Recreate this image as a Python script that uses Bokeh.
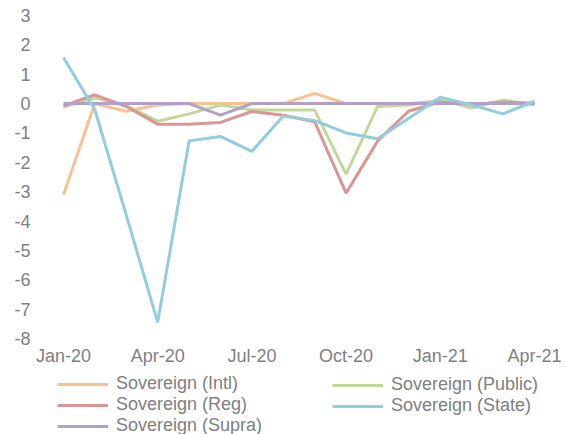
from bokeh.plotting import figure
from bokeh.models import Range1d, FixedTicker, Legend, LegendItem, LinearAxis
from bokeh.embed import file_html
from bokeh.resources import INLINE

months = ["Jan-20", "Feb-20", "Mar-20", "Apr-20", "May-20", "Jun-20", "Jul-20", "Aug-20",
          "Sep-20", "Oct-20", "Nov-20", "Dec-20", "Jan-21", "Feb-21", "Mar-21", "Apr-21"]
tick_months = ["Jan-20", "Apr-20", "Jul-20", "Oct-20", "Jan-21", "Apr-21"]
y_ticks = [-8, -7, -6, -5, -4, -3, -2, -1, 0, 1, 2, 3]

intl = [-3.1, 0.0, -0.26, -0.05, 0.0, 0.0, 0.0, 0.0, 0.35, 0.0, 0.0, 0.0, 0.08, -0.05, 0.05, 0.0]
public = [-0.12, 0.2, -0.07, -0.6, -0.35, -0.05, -0.22, -0.22, -0.22, -2.4, -0.1, -0.05, 0.12, -0.15, 0.12, -0.05]
reg = [-0.08, 0.3, -0.1, -0.7, -0.7, -0.64, -0.27, -0.4, -0.62, -3.05, -1.28, -0.25, 0.05, -0.02, 0.05, 0.0]
state = [1.57, -0.22, -3.8, -7.45, -1.27, -1.12, -1.63, -0.42, -0.58, -1.0, -1.2, -0.5, 0.22, -0.05, -0.35, 0.08]
supra = [0.0, 0.0, 0.0, 0.0, 0.0, -0.39, 0.0, 0.0, 0.0, 0.0, 0.0, 0.0, 0.0, 0.0, 0.0, 0.0]

names = ["Sovereign (Intl)", "Sovereign (Public)", "Sovereign (Reg)", "Sovereign (State)", "Sovereign (Supra)"]
colors = ["#FAC090", "#C4D79B", "#DA9694", "#92CDDC", "#B1A0C7"]
all_series = [intl, public, reg, state, supra]

x = list(range(len(months)))
FONT = "Liberation Sans"
GREY = "#808080"

# canvas layout (pixels): plot area spans x 63..534, y 15..338 within a 565x434 canvas
W, H = 565, 434
PX_L, PX_R, PY_T, PY_B = 63, 534, 15, 338
n = len(months) - 1
ymin, ymax = min(y_ticks), max(y_ticks)
sx = (PX_R - PX_L) / n
sy = (PY_B - PY_T) / (ymax - ymin)
x_range = Range1d(-PX_L / sx, n + (W - PX_R) / sx)
y_range = Range1d(ymin - (H - PY_B) / sy, ymax + PY_T / sy)

p = figure(width=W, height=H, output_backend="svg", toolbar_location=None,
           x_range=x_range, y_range=y_range, x_axis_location=None, y_axis_location=None,
           min_border=0)
p.outline_line_color = None
p.grid.visible = False
p.background_fill_color = "white"

renderers = {}
for i in [0, 1, 2, 4, 3]:
    renderers[i] = p.line(x, all_series[i], line_color=colors[i], line_width=3)

xaxis = LinearAxis(fixed_location=ymin)
yaxis = LinearAxis(fixed_location=0)
for ax in (xaxis, yaxis):
    ax.axis_line_color = None
    ax.major_tick_line_color = None
    ax.minor_tick_line_color = None
    ax.major_tick_out = 0
    ax.major_tick_in = 0
    ax.major_label_text_font = FONT
    ax.major_label_text_font_size = "18px"
    ax.major_label_text_color = GREY

xaxis.ticker = FixedTicker(ticks=[months.index(m) for m in tick_months])
xaxis.major_label_overrides = {months.index(m): m for m in tick_months}
xaxis.major_label_standoff = 7
yaxis.ticker = FixedTicker(ticks=y_ticks)
yaxis.major_label_overrides = {v: str(v) for v in y_ticks}
yaxis.major_label_standoff = 33
p.add_layout(xaxis, "below")
p.add_layout(yaxis, "left")

ROW_H = 20

def make_legend(idxs, loc):
    lg = Legend(items=[LegendItem(label=names[i], renderers=[renderers[i]]) for i in idxs],
                location=loc, orientation="vertical")
    lg.label_text_font = FONT
    lg.label_text_font_size = "18px"
    lg.label_text_color = GREY
    lg.glyph_width = 51
    lg.glyph_height = ROW_H
    lg.label_height = ROW_H
    lg.label_standoff = 8
    lg.spacing = 0
    lg.padding = 0
    lg.margin = 0
    lg.border_line_alpha = 0
    lg.background_fill_alpha = 0
    return lg

p.add_layout(make_legend([0, 2, 4], (57, -2)))
p.add_layout(make_legend([1, 3], (332, -2 + ROW_H)))

open("out.html", "w").write(file_html(p, INLINE))
